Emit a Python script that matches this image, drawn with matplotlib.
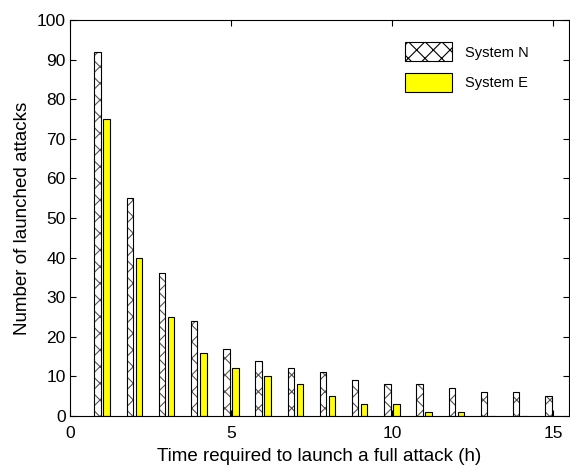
import matplotlib
matplotlib.use("Agg")
import matplotlib.pyplot as plt
import numpy as np
from matplotlib.patches import Patch

plt.rcParams['font.family'] = ['Liberation Sans', 'DejaVu Sans']
plt.rcParams['hatch.linewidth'] = 0.8

hours = [1, 2, 3, 4, 5, 6, 7, 8, 9, 10, 11, 12, 13, 14, 15]
system_n = [92, 55, 36, 24, 17, 14, 12, 11, 9, 8, 8, 7, 6, 6, 5]
system_e = [75, 40, 25, 16, 12, 10, 8, 5, 3, 3, 1, 1, 0, 0, 0]

fig = plt.figure(figsize=(5.7, 4.68), dpi=100)
ax = fig.add_axes([70/570, 52/468, 499/570, 396/468])

x = np.array(hours, dtype=float)
w = 0.2
ax.bar(x - 0.14, system_n, width=w, facecolor='white', edgecolor='#555555',
       hatch='xx', linewidth=0)
ax.bar(x - 0.14, system_n, width=w, facecolor='none', edgecolor='black',
       linewidth=0.8)
ax.bar(x + 0.14, system_e, width=w, facecolor='#ffff00', edgecolor='black',
       linewidth=0.8)

h1 = Patch(facecolor='white', edgecolor='black', hatch='xx', linewidth=0.8)
h2 = Patch(facecolor='#ffff00', edgecolor='black', linewidth=0.8)
ax.legend([h1, h2], ['System N', 'System E'], loc='upper right',
          frameon=False, fontsize=10.5, handlelength=3.2, handleheight=1.6,
          borderaxespad=1.0, labelspacing=0.8, handletextpad=0.9,
          bbox_to_anchor=(0.96, 0.995))

ax.set_xlim(0, 15.5)
ax.set_ylim(0, 100)
ax.set_xticks([0, 5, 10, 15])
ax.set_yticks(range(0, 101, 10))
ax.tick_params(direction='in', top=True, right=True, labelsize=12.5, length=4)
ax.tick_params(axis='x', pad=7)
ax.tick_params(axis='y', pad=3)
ax.set_xlabel('Time required to launch a full attack (h)', fontsize=13.5, labelpad=5)
ax.set_ylabel('Number of launched attacks', fontsize=13.5, labelpad=4)

fig.savefig('out.png', dpi=100)
